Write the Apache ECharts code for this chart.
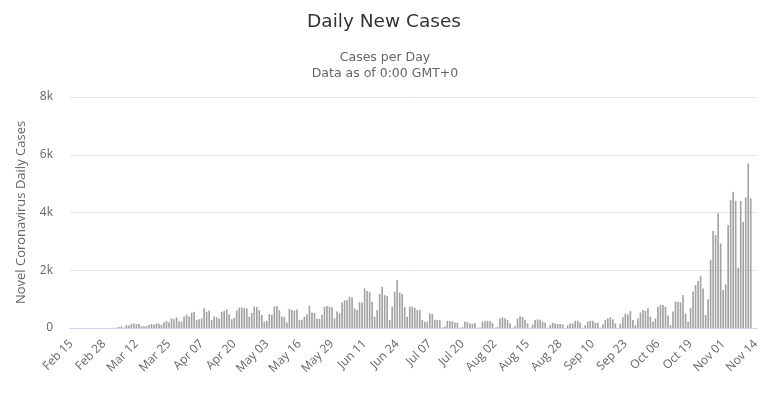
<!DOCTYPE html>
<html>
<head>
<meta charset="utf-8">
<title>Daily New Cases</title>
<script src="https://cdn.jsdelivr.net/npm/echarts@6/dist/echarts.min.js"></script>
<style>
  html, body { margin: 0; padding: 0; background: #fff; }
  #main { width: 772px; height: 398px; }
</style>
</head>
<body>
<div id="main"></div>
<script>
// daily categories, Feb 15 .. Nov 14 (2020)
var monthNames = ['Jan','Feb','Mar','Apr','May','Jun','Jul','Aug','Sep','Oct','Nov','Dec'];
var startDate = new Date(2020, 1, 15);
var dayCount = 274;
var categories = [];
for (var i = 0; i < dayCount; i++) {
  var d = new Date(startDate.getFullYear(), startDate.getMonth(), startDate.getDate() + i);
  var dd = d.getDate() < 10 ? '0' + d.getDate() : '' + d.getDate();
  categories.push(monthNames[d.getMonth()] + ' ' + dd);
}

// new cases per day
var dailyCases = [
  0, 0, 0, 0, 0, 0, 0, 0, 0, 0,
  0, 1, 2, 4, 1, 2, 0, 5, 10, 35,
  50, 20, 100, 90, 150, 160, 130, 140, 60, 60,
  70, 100, 140, 120, 160, 150, 110, 200, 240, 200,
  330, 300, 370, 230, 220, 400, 470, 400, 530, 560,
  280, 300, 330, 680, 560, 610, 280, 400, 370, 330,
  560, 590, 640, 470, 300, 350, 610, 700, 720, 690,
  680, 390, 520, 750, 730, 620, 450, 220, 240, 480,
  460, 740, 760, 620, 400, 380, 190, 660, 620, 600,
  640, 280, 290, 390, 480, 770, 540, 520, 330, 320,
  470, 730, 760, 740, 720, 330, 570, 510, 880, 960,
  970, 1090, 1060, 680, 620, 890, 880, 1370, 1280, 1240,
  910, 390, 620, 1180, 1430, 1140, 1100, 280, 740, 1260,
  1660, 1230, 1180, 720, 390, 740, 740, 700, 620, 620,
  280, 220, 220, 510, 480, 280, 280, 270, 20, 50,
  250, 240, 230, 190, 180, 10, 30, 220, 210, 160,
  150, 170, 10, 20, 220, 230, 250, 240, 180, 10,
  40, 330, 370, 340, 280, 160, 10, 60, 330, 410,
  380, 280, 160, 10, 120, 280, 300, 290, 220, 185,
  10, 100, 185, 160, 140, 140, 130, 10, 100, 160,
  160, 250, 250, 185, 10, 100, 220, 250, 250, 185,
  185, 10, 120, 280, 330, 370, 300, 160, 10, 150,
  370, 500, 470, 590, 280, 100, 330, 540, 620, 590,
  680, 390, 220, 330, 740, 800, 800, 740, 430, 100,
  570, 910, 910, 890, 1140, 500, 220, 700, 1260, 1490,
  1630, 1810, 1370, 450, 1000, 2360, 3360, 3220, 3970, 2930,
  1320, 1510, 3570, 4435, 4720, 4400, 2090, 4400, 3680, 4515,
  5700, 4490, 0, 0
];

var yTicks = [0, 2000, 4000, 6000, 8000];

var myChart = echarts.init(document.getElementById('main'));

var option = {
  animation: false,
  title: [{
    text: 'Daily New Cases',
    left: 379,
    top: 8,
    textAlign: 'center',
    textStyle: { fontFamily: 'DejaVu Sans', fontSize: 18.5, fontWeight: 'normal', color: '#333' }
  }, {
    text: 'Cases per Day\nData as of 0:00 GMT+0',
    left: 380,
    top: 45,
    textAlign: 'center',
    textStyle: { fontFamily: 'DejaVu Sans', fontSize: 12.5, fontWeight: 'normal', color: '#666', lineHeight: 16 }
  }],
  grid: { left: 70, right: 15, top: 97, bottom: 70 },
  xAxis: {
    type: 'category',
    data: categories,
    axisLine: { lineStyle: { color: '#ccd6eb' } },
    axisTick: { show: false },
    axisLabel: {
      interval: 12,
      rotate: 45,
      margin: 14,
      color: '#666',
      fontFamily: 'Open Sans',
      fontSize: 12
    }
  },
  yAxis: {
    type: 'value',
    min: yTicks[0],
    max: yTicks[yTicks.length - 1],
    interval: 2000,
    name: 'Novel Coronavirus Daily Cases',
    nameLocation: 'middle',
    nameGap: 42,
    nameTextStyle: { color: '#666', fontFamily: 'Open Sans', fontSize: 13 },
    axisLine: { show: false },
    axisTick: { show: false },
    axisLabel: {
      color: '#666',
      fontFamily: 'Open Sans',
      fontSize: 12,
      margin: 17,
      formatter: function (v) { return v === 0 ? '0' : (v / 1000) + 'k'; }
    },
    splitLine: { lineStyle: { color: '#e3e3e8' } }
  },
  series: [{
    name: 'Daily Cases',
    type: 'bar',
    data: dailyCases,
    barCategoryGap: '35%',
    itemStyle: { color: '#a2a2a2' }
  }]
};

myChart.setOption(option);
</script>
</body>
</html>
